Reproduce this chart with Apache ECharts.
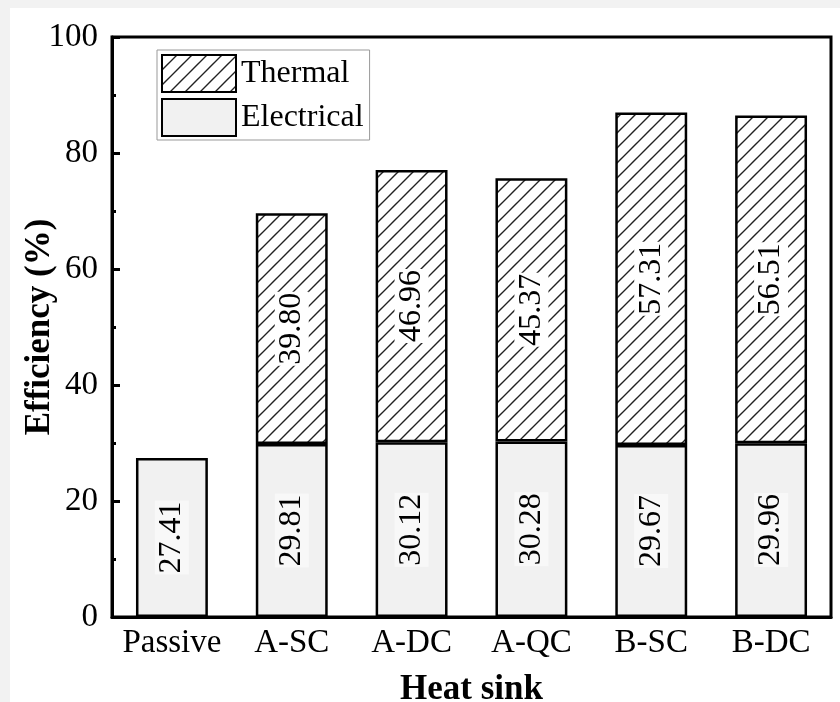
<!DOCTYPE html>
<html>
<head>
<meta charset="utf-8">
<script src="https://cdn.jsdelivr.net/npm/echarts@6/dist/echarts.min.js"></script>
<style>
  html, body { margin: 0; padding: 0; background: #fff; }
  #chart { width: 840px; height: 702px; }
</style>
</head>
<body>
<div id="chart"></div>
<script>
// Heat sink configurations and efficiency components (%)
const categories = ['Passive', 'A-SC', 'A-DC', 'A-QC', 'B-SC', 'B-DC'];
const electrical = [27.41, 29.81, 30.12, 30.28, 29.67, 29.96];
const thermal = [null, 39.80, 46.96, 45.37, 57.31, 56.51];
const yTicks = { min: 0, max: 100, interval: 20 };

const FONT = "'Liberation Serif', 'Times New Roman', serif";

// Diagonal hatch tile for the thermal segments
function hatchTile() {
  const s = 15;
  const c = document.createElement('canvas');
  c.width = s; c.height = s;
  const g = c.getContext('2d');
  g.fillStyle = '#fff';
  g.fillRect(0, 0, s, s);
  g.strokeStyle = '#222';
  g.lineWidth = 1.4;
  g.beginPath();
  g.moveTo(0, s); g.lineTo(s, 0);
  g.moveTo(-2, 2); g.lineTo(2, -2);
  g.moveTo(s - 2, s + 2); g.lineTo(s + 2, s - 2);
  g.stroke();
  return c;
}

const chart = echarts.init(document.getElementById('chart'), null, { renderer: 'canvas' });

const labelBase = {
  show: true,
  position: 'inside',
  rotate: 90,
  color: '#000',
  fontFamily: FONT,
  fontSize: 32,
  padding: [2, 1, 0, 1],
  formatter: p => (p.value == null ? '' : Number(p.value).toFixed(2))
};

chart.setOption({
  backgroundColor: '#fff',
  animation: false,
  graphic: [
    { type: 'rect', shape: { x: 0, y: 0, width: 840, height: 8 }, style: { fill: '#f2f2f2' }, z: -10 },
    { type: 'rect', shape: { x: 0, y: 0, width: 10, height: 702 }, style: { fill: '#f2f2f2' }, z: -10 }
  ],
  grid: {
    left: 112, top: 37, right: 9, bottom: 85,
    containLabel: false,
    outerBoundsMode: 'none',
    show: true, borderColor: '#000', borderWidth: 3, backgroundColor: 'transparent'
  },
  legend: {
    data: ['Thermal', 'Electrical'],
    orient: 'vertical',
    left: 157, top: 50,
    icon: 'rect',
    itemWidth: 74, itemHeight: 37, itemGap: 5, itemTextGap: 8,
    padding: [4, 6, 3, 4],
    borderColor: '#999', borderWidth: 1,
    backgroundColor: '#fff',
    textStyle: { fontFamily: FONT, fontSize: 32, color: '#000' }
  },
  xAxis: [
    {
      type: 'category',
      data: categories,
      position: 'bottom',
      name: 'Heat sink',
      nameLocation: 'middle',
      nameGap: 55,
      nameMoveOverlap: false,
      nameTextStyle: { fontFamily: FONT, fontSize: 35, fontWeight: 'bold', color: '#000' },
      axisLine: { lineStyle: { color: '#000', width: 3 } },
      axisTick: { alignWithLabel: true, inside: true, length: 8, lineStyle: { color: '#000', width: 3 } },
      axisLabel: { interval: 0, fontFamily: FONT, fontSize: 33, color: '#000', margin: 10 }
    },
    {
      type: 'category',
      data: categories,
      position: 'bottom',
      axisLine: { show: false },
      axisTick: { interval: 0, inside: true, length: 4, lineStyle: { color: '#000', width: 3 } },
      axisLabel: { show: false }
    }
  ],
  yAxis: {
    type: 'value',
    min: yTicks.min, max: yTicks.max, interval: yTicks.interval,
    name: 'Efficiency (%)',
    nameLocation: 'middle',
    nameGap: 55,
    nameMoveOverlap: false,
    nameTextStyle: { fontFamily: FONT, fontSize: 35, fontWeight: 'bold', color: '#000' },
    axisLine: { show: true, lineStyle: { color: '#000', width: 3 } },
    axisTick: { show: true, inside: true, length: 8, lineStyle: { color: '#000', width: 3 } },
    minorTick: { show: true, splitNumber: 2, length: 4, lineStyle: { color: '#000', width: 3 } },
    splitLine: { show: false },
    axisLabel: { fontFamily: FONT, fontSize: 33, color: '#000', margin: 14 }
  },
  series: [
    {
      name: 'Electrical',
      type: 'bar',
      stack: 'eff',
      xAxisIndex: 0,
      barWidth: '60%',
      data: electrical,
      itemStyle: { color: '#f1f1f1', borderColor: '#000', borderWidth: 2.5 },
      label: Object.assign({}, labelBase, { backgroundColor: '#f8f8f8' })
    },
    {
      name: 'Thermal',
      type: 'bar',
      stack: 'eff',
      xAxisIndex: 0,
      barWidth: '60%',
      data: thermal,
      itemStyle: { color: { image: hatchTile(), repeat: 'repeat' }, borderColor: '#000', borderWidth: 2.5 },
      label: Object.assign({}, labelBase, { backgroundColor: '#fff' })
    }
  ]
});
</script>
</body>
</html>
